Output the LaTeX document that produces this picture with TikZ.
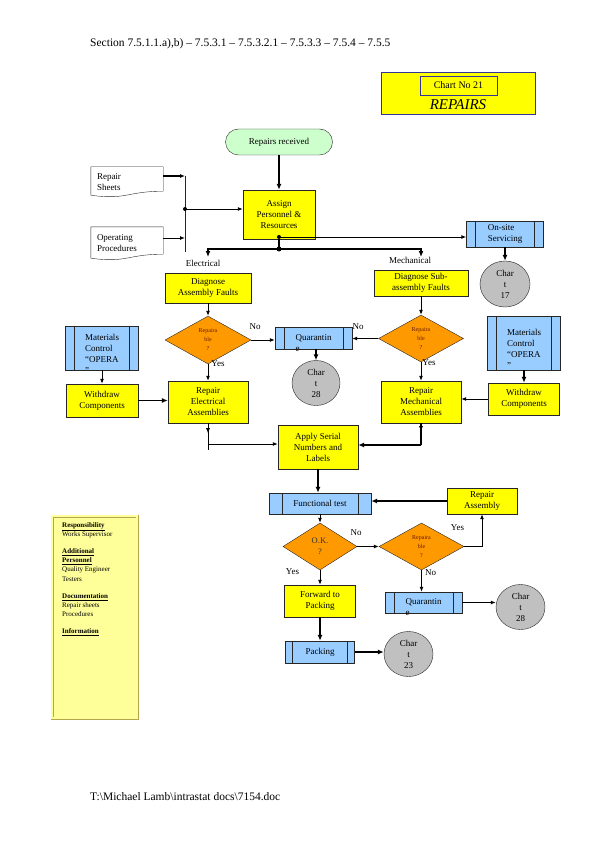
\documentclass[tikz,border=0pt]{standalone}
\usepackage{fontspec}
\setmainfont{Liberation Serif}
\usetikzlibrary{arrows.meta,shapes.geometric}

\definecolor{procyellow}{HTML}{FFFF00}
\definecolor{predefblue}{HTML}{99CCFF}
\definecolor{decorange}{HTML}{FF9900}
\definecolor{chartgrey}{HTML}{C0C0C0}
\definecolor{termgreen}{HTML}{CCFFCC}
\definecolor{legfill}{HTML}{FFFF99}
\definecolor{legline}{HTML}{B3A64D}
\definecolor{titlenavy}{HTML}{333399}
\definecolor{dectext}{HTML}{661A00}
\definecolor{boxline}{HTML}{262626}

% text that runs out below its box
\newcommand{\spill}[1]{\makebox[0pt][l]{\smash{\raisebox{-\baselineskip}{#1}}}}

\begin{document}
\begin{tikzpicture}[x=1pt, y=-1pt, font=\fontsize{9}{11}\selectfont,
  procbox/.style={draw=boxline, fill=procyellow, inner sep=1pt, align=center},
  predef/.style={draw=boxline, fill=predefblue, inner sep=1pt, align=left,
    path picture={\draw[boxline]
      ([xshift=#1]path picture bounding box.north west) -- ([xshift=#1]path picture bounding box.south west)
      ([xshift=-#1]path picture bounding box.north east) -- ([xshift=-#1]path picture bounding box.south east);}},
  predef/.default=9pt,
  decision/.style={diamond, draw=boxline, fill=decorange, aspect=1.8, inner sep=0pt,
    align=center, text=dectext, font=\fontsize{6}{9}\selectfont},
  chartref/.style={ellipse, draw=boxline, fill=chartgrey, inner sep=0pt, align=center},
  docbox/.style={text width=60pt, align=left, minimum width=72pt, inner sep=1pt},
  conn/.style={line width=0.9pt, -{Latex[length=5pt,width=4pt]}},
  connheavy/.style={line width=1.8pt, -{Latex[length=6pt,width=5pt]}}]
\useasboundingbox (0,0) rectangle (595,842);

% header and title
\node[anchor=west, inner sep=0pt, font=\fontsize{11.5}{14}\selectfont] (hdr) at (90,44)
  {Section 7.5.1.1.a),b) \textendash{} 7.5.3.1 \textendash{} 7.5.3.2.1 \textendash{} 7.5.3.3 \textendash{} 7.5.4 \textendash{} 7.5.5};
\node[draw=titlenavy, fill=procyellow, line width=1pt, minimum width=154pt, minimum height=42pt] (chartbox) at (458,94) {};
\node[draw=titlenavy, fill=procyellow, line width=0.8pt, minimum width=77pt, minimum height=19pt,
  font=\fontsize{10}{12}\selectfont] (chartno) at (458.5,85.5) {Chart No 21};
\node[inner sep=0pt, font=\fontsize{15}{18}\selectfont\itshape] (chartname) at (458,105) {REPAIRS};

% start and inputs
\node[draw=boxline, fill=termgreen, rounded corners=13pt, minimum width=107pt, minimum height=26pt] (recv) at (279,142) {Repairs received};
\node[docbox, minimum height=30pt] (rsheets) at (127,182) {Repair\\Sheets};
\node[docbox, minimum height=33pt] (oproc) at (127,243.5) {Operating\\Procedures};
\foreach \d in {rsheets,oproc}
  \draw[boxline] (\d.north west) -- (\d.north east) -- ([yshift=6pt]\d.south east)
    .. controls ([xshift=-36pt,yshift=6pt]\d.south east) and ([xshift=36pt,yshift=-3pt]\d.south west) .. ([yshift=2pt]\d.south west) -- cycle;
\node[procbox, minimum width=72pt, minimum height=49pt] (assign) at (279,214.5) {Assign\\Personnel \&\\Resources};

% on-site
\node[predef, minimum width=77pt, minimum height=26pt] (onsite) at (505,234) {On-site\\Servicing};
\node[chartref, minimum width=50pt, minimum height=46pt] (chartA) at (505,284) {Char\\t\\17};

% electrical side
\node[procbox, minimum width=86pt, minimum height=30pt] (diagel) at (208,288) {Diagnose\\Assembly Faults};
\node[decision, minimum width=86pt, minimum height=48pt] (repel) at (208,340) {Repaira\\ble\\?};
\node[procbox, minimum width=80pt, minimum height=42pt] (repelec) at (208,402) {Repair\\Electrical\\Assemblies};
\node[predef, minimum width=73pt, minimum height=44pt] (matl) at (102,348) {Materials\\Control\\\spill{\textquotedblright}\textquotedblleft OPERA};
\node[procbox, minimum width=72pt, minimum height=33pt] (wdl) at (102,400.5) {Withdraw\\Components};

% quarantine
\node[predef, minimum width=77pt, minimum height=22pt] (quarA) at (313.5,338) {\spill{e}Quarantin};
\node[chartref, minimum width=48pt, minimum height=45pt] (chartB) at (316,383) {Char\\t\\28};

% mechanical side
\node[procbox, minimum width=94pt, minimum height=26pt] (diagmech) at (421,283) {Diagnose Sub-\\assembly Faults};
\node[decision, minimum width=85pt, minimum height=47pt] (repmech) at (421,338.5) {Repaira\\ble\\?};
\node[procbox, minimum width=80pt, minimum height=42pt] (repmechbox) at (421,402) {Repair\\Mechanical\\Assemblies};
\node[predef, minimum width=73pt, minimum height=54pt] (matr) at (524,343) {Materials\\Control\\\spill{\textquotedblright}\textquotedblleft OPERA};
\node[procbox, minimum width=71pt, minimum height=32pt] (wdr) at (524,399) {Withdraw\\Components};

% serial numbers and test
\node[procbox, minimum width=80pt, minimum height=44pt] (apply) at (318,447) {Apply Serial\\Numbers and\\Labels};
\node[predef=13pt, align=center, minimum width=102pt, minimum height=21pt] (ftest) at (320,503.5) {Functional test};
\node[procbox, minimum width=70pt, minimum height=26pt] (repasm) at (482,501) {Repair\\Assembly};
\node[decision, minimum width=74pt, minimum height=47pt, font=\fontsize{8.5}{11}\selectfont, text=black!80] (okd) at (320,546.5) {O.K.\\?};
\node[decision, minimum width=85pt, minimum height=47pt] (repd2) at (421.5,546.5) {Repaira\\ble\\?};
\node[procbox, minimum width=71pt, minimum height=32pt] (fwd) at (320,601) {Forward to\\Packing};
\node[predef, minimum width=77pt, minimum height=21pt] (quarB) at (423.5,602.5) {\spill{e}Quarantin};
\node[chartref, minimum width=49pt, minimum height=45pt] (chartC) at (520.5,607) {Char\\t\\28};
\node[predef=7pt, minimum width=69pt, minimum height=22pt] (pack) at (320,652) {Packing};
\node[chartref, minimum width=49pt, minimum height=45pt] (chartD) at (408.5,654) {Char\\t\\23};

% legend
\node[draw=legline, double=legfill, double distance=2pt, line width=0.6pt, fill=legfill, anchor=north west,
  minimum width=85pt, minimum height=202pt] (legend) at (52,516) {};
\node[anchor=north west, align=left, inner sep=0pt, font=\fontsize{7}{9.3}\selectfont] (legtext) at (62,522)
  {\underline{\textbf{Responsibility}}\\Works Supervisor\\[7.7pt]
   \underline{\textbf{Additional}}\\\underline{\textbf{Personnel}}\\Quality Engineer\\Testers\\[7.7pt]
   \underline{\textbf{Documentation}}\\Repair sheets\\Procedures\\[7.7pt]
   \underline{\textbf{Information}}};

% footer
\node[anchor=west, inner sep=0pt, font=\fontsize{11.5}{14}\selectfont] (footer) at (90,797)
  {T:\textbackslash Michael Lamb\textbackslash intrastat docs\textbackslash 7154.doc};

% inputs to assign
\coordinate (jtop) at (185,176);
\coordinate (jmid) at (185,209);
\coordinate (jlow) at (185,238);
\coordinate (jbot) at (185,252);
\draw[connheavy] (recv.south) -- (assign.north);
\draw[boxline, line width=1pt] (jtop) -- (jbot);
\draw[conn, line width=1.3pt] ([yshift=6pt]rsheets.east) -- (jtop);
\draw[conn] ([yshift=5.5pt]oproc.east) -- (jlow);
\draw[conn] (jmid) -- (jmid -| assign.west);
\fill (jmid) circle (2pt);

% split
\coordinate (asgdot) at (279,237);
\coordinate (split) at (279,249);
\coordinate (elecend) at (208,257);
\coordinate (mechend) at (421,257);
\draw[conn] (asgdot) -- (asgdot -| onsite.west);
\draw[line width=1.2pt] (assign.south) -- (split);
\draw[connheavy] (split) -| (elecend);
\draw[connheavy] (split) -| (mechend);
\fill (asgdot) circle (2pt);
\fill (split) circle (2.5pt);
\node (lblElec) at (203,263) {Electrical};
\node (lblMech) at (410,260) {Mechanical};
\draw[connheavy] (onsite.south) -- (chartA.north);

% diagnosis
\draw[conn] (diagel.south) -- (repel.north);
\draw[conn] (diagmech.south) -- (repmech.north);
\draw[conn] (repel.east) -- (repel.east -| quarA.west);
\draw[conn] (repmech.west) -- (repmech.west -| quarA.east);
\node (lblNoA) at (255,327) {No};
\node (lblNoB) at (358,327) {No};
\draw[connheavy] (quarA.south -| chartB.north) -- (chartB.north);
\draw[conn] (repel.south) -- (repelec.north);
\node (lblYesA) at (218,364) {Yes};
\draw[conn] (repmech.south) -- (repmechbox.north);
\node (lblYesB) at (429,363) {Yes};

% components
\draw[conn] (matl.south) -- (wdl.north);
\draw[connheavy] (wdl.east) -- (wdl.east -| repelec.west);
\draw[connheavy] (matr.south) -- (wdr.north);
\draw[conn] (wdr.west) -- (wdr.west -| repmechbox.east);

% to serial numbers
\coordinate (eljoin) at (208,444);
\coordinate (mjoin) at (421,445);
\draw[conn] (repelec.south) -- ++(0,10);
\draw[line width=0.9pt] (repelec.south) -- ++(0,27);
\draw[conn] (eljoin) -- (eljoin -| apply.west);
\draw[conn] (repmechbox.south) -- ++(0,8);
\draw[line width=1.6pt] (repmechbox.south) -- (mjoin);
\draw[connheavy] (mjoin) -- (mjoin -| apply.east);

% test loop
\draw[connheavy] (apply.south) -- (apply.south |- ftest.north);
\draw[connheavy, line width=1.3pt] (repasm.west) -- (repasm.west -| ftest.east);
\draw[conn] (ftest.south) -- (okd.north);
\draw[conn] (okd.east) -- (repd2.west);
\node (lblNoC) at (356,533) {No};
\draw[conn] (repd2.east) -| (repasm.south);
\node (lblYesC) at (457.5,528) {Yes};
\draw[conn] (repd2.south) -- (repd2.south |- quarB.north);
\node (lblNoD) at (430.5,573) {No};
\draw[conn] (okd.south) -- (fwd.north);
\node (lblYesD) at (292.5,572) {Yes};
\draw[conn] (quarB.east) -- (quarB.east -| chartC.west);
\draw[connheavy] (fwd.south) -- (pack.north);
\draw[connheavy] (pack.east) -- (pack.east -| chartD.west);
\end{tikzpicture}
\end{document}
